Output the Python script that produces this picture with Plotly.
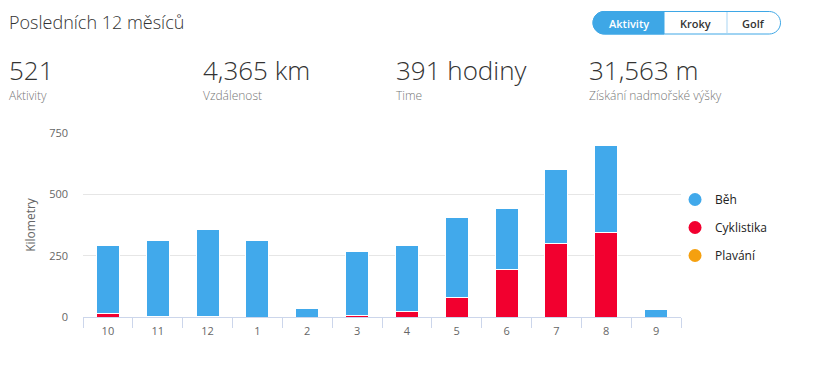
import plotly.graph_objects as go

months = ["10", "11", "12", "1", "2", "3", "4", "5", "6", "7", "8", "9"]
beh = [275, 308, 353, 310, 33, 259, 268, 325, 248, 301, 354, 29]
cyklistika = [15, 2, 2, 0, 0, 6, 22, 79, 193, 299, 344, 0]
plavani = [0, 0, 0, 0, 0, 0, 0, 0, 0, 0, 0, 0]

stat_values = ["521", "4,365 km", "391 hodiny", "31,563 m"]
stat_labels = ["Aktivity", "Vzdálenost", "Time", "Získání nadmořské výšky"]
buttons = ["Aktivity", "Kroky", "Golf"]

C_BLUE = "#41a9eb"
C_RED = "#f2002f"
C_ORANGE = "#f5a00f"
FONT = "Open Sans"

W, H = 831, 377
ML, MR, MT, MB = 83, 150, 133, 60
PW = W - ML - MR
PH = H - MT - MB


def px(x):
    return (x - ML) / PW


def py(y):
    return (H - MB - y) / PH


fig = go.Figure()
fig.add_trace(go.Bar(x=months, y=plavani, marker=dict(color=C_ORANGE, line=dict(color="white", width=1)),
                     showlegend=False, hoverinfo="skip"))
fig.add_trace(go.Bar(x=months, y=cyklistika, marker=dict(color=C_RED, line=dict(color="white", width=1)),
                     showlegend=False, hoverinfo="skip"))
fig.add_trace(go.Bar(x=months, y=beh, marker=dict(color=C_BLUE, line=dict(color="white", width=1)),
                     showlegend=False, hoverinfo="skip"))

for name, col in [("Běh", C_BLUE), ("Cyklistika", C_RED), ("Plavání", C_ORANGE)]:
    fig.add_trace(go.Scatter(x=[None], y=[None], mode="markers", name=name, legendgroup=name,
                             marker=dict(color=col, size=13, symbol="circle")))

annotations = []
annotations.append(dict(text="Posledních 12 měsíců", x=px(7), y=py(22), xref="paper", yref="paper",
                        xanchor="left", yanchor="middle", showarrow=False,
                        font=dict(family=FONT, size=18, color="#333333", weight=300)))
stat_x = [7, 201, 394, 587]
for sx, v, lab in zip(stat_x, stat_values, stat_labels):
    annotations.append(dict(text=v, x=px(sx), y=py(70), xref="paper", yref="paper",
                            xanchor="left", yanchor="middle", showarrow=False,
                            font=dict(family=FONT, size=26, color="#333333", weight=300)))
    annotations.append(dict(text=lab, x=px(sx), y=py(95), xref="paper", yref="paper",
                            xanchor="left", yanchor="middle", showarrow=False,
                            font=dict(family=FONT, size=12, color="#777777", weight=300)))

# button pill
L, R, T, B = 593, 780.5, 11.5, 34
D1, D2 = 664, 727
r = (B - T) / 2
k = 0.5523 * r


def P(x, y):
    return f"{x - ML},{H - MB - y}"


def left_cap_path(xr):
    return (f"M {P(xr, T)} L {P(L + r, T)} "
            f"C {P(L + r - k, T)} {P(L, T + r - k)} {P(L, T + r)} "
            f"C {P(L, T + r + k)} {P(L + r - k, B)} {P(L + r, B)} "
            f"L {P(xr, B)} Z")


full = (f"M {P(L + r, T)} L {P(R - r, T)} "
        f"C {P(R - r + k, T)} {P(R, T + r - k)} {P(R, T + r)} "
        f"C {P(R, T + r + k)} {P(R - r + k, B)} {P(R - r, B)} "
        f"L {P(L + r, B)} "
        f"C {P(L + r - k, B)} {P(L, T + r + k)} {P(L, T + r)} "
        f"C {P(L, T + r - k)} {P(L + r - k, T)} {P(L + r, T)} Z")

shape_common = dict(xref="paper", yref="paper", xsizemode="pixel", ysizemode="pixel",
                    xanchor=0, yanchor=0, type="path", layer="above")
shapes = [
    dict(path=full, fillcolor="white", line=dict(color="#3ea7e6", width=1), **shape_common),
    dict(path=left_cap_path(D1), fillcolor="#3ea7e6", line=dict(color="#3ea7e6", width=1), **shape_common),
    dict(path=f"M {P(D2, T + 0.5)} L {P(D2, B - 0.5)}", line=dict(color="#a9d5f3", width=1), **shape_common),
]
btn_cx = [629, 695.5, 753.5]
for cx, b, i in zip(btn_cx, buttons, range(3)):
    annotations.append(dict(text=b, x=px(cx), y=py(23), xref="paper", yref="paper",
                            xanchor="center", yanchor="middle", showarrow=False,
                            font=dict(family=FONT, size=11, color="white" if i == 0 else "#333333", weight=600)))

fig.update_layout(
    width=W, height=H, autosize=False,
    margin=dict(l=ML, r=MR, t=MT, b=MB, pad=0),
    paper_bgcolor="white", plot_bgcolor="white",
    barmode="stack", bargap=0.54,
    font=dict(family=FONT, color="#666666", size=11),
    xaxis=dict(type="category", tickson="boundaries", ticks="outside", ticklen=10, tickcolor="#ccd6eb",
               showline=True, linecolor="#ccd6eb", linewidth=1, showgrid=False, zeroline=False,
               ticklabelstandoff=4,
               tickfont=dict(family=FONT, size=11, color="#666666"), fixedrange=True),
    yaxis=dict(range=[0, 750], tickvals=[0, 250, 500, 750], ticktext=["0", "250", "500", "750"],
               showgrid=True, gridcolor="#e6e6e6", gridwidth=1, showline=False, zeroline=False,
               ticks="", ticklabelstandoff=14,
               tickfont=dict(family=FONT, size=11, color="#666666"),
               title=dict(text="Kilometry", font=dict(family=FONT, size=12, color="#666666"), standoff=10),
               fixedrange=True),
    legend=dict(x=0.99, xanchor="left", y=py(185), yanchor="top", traceorder="grouped", tracegroupgap=9,
                font=dict(family=FONT, size=12, color="#222222"), bgcolor="rgba(0,0,0,0)"),
    annotations=annotations,
    shapes=shapes,
    showlegend=True,
)

fig.write_html("out.html")
